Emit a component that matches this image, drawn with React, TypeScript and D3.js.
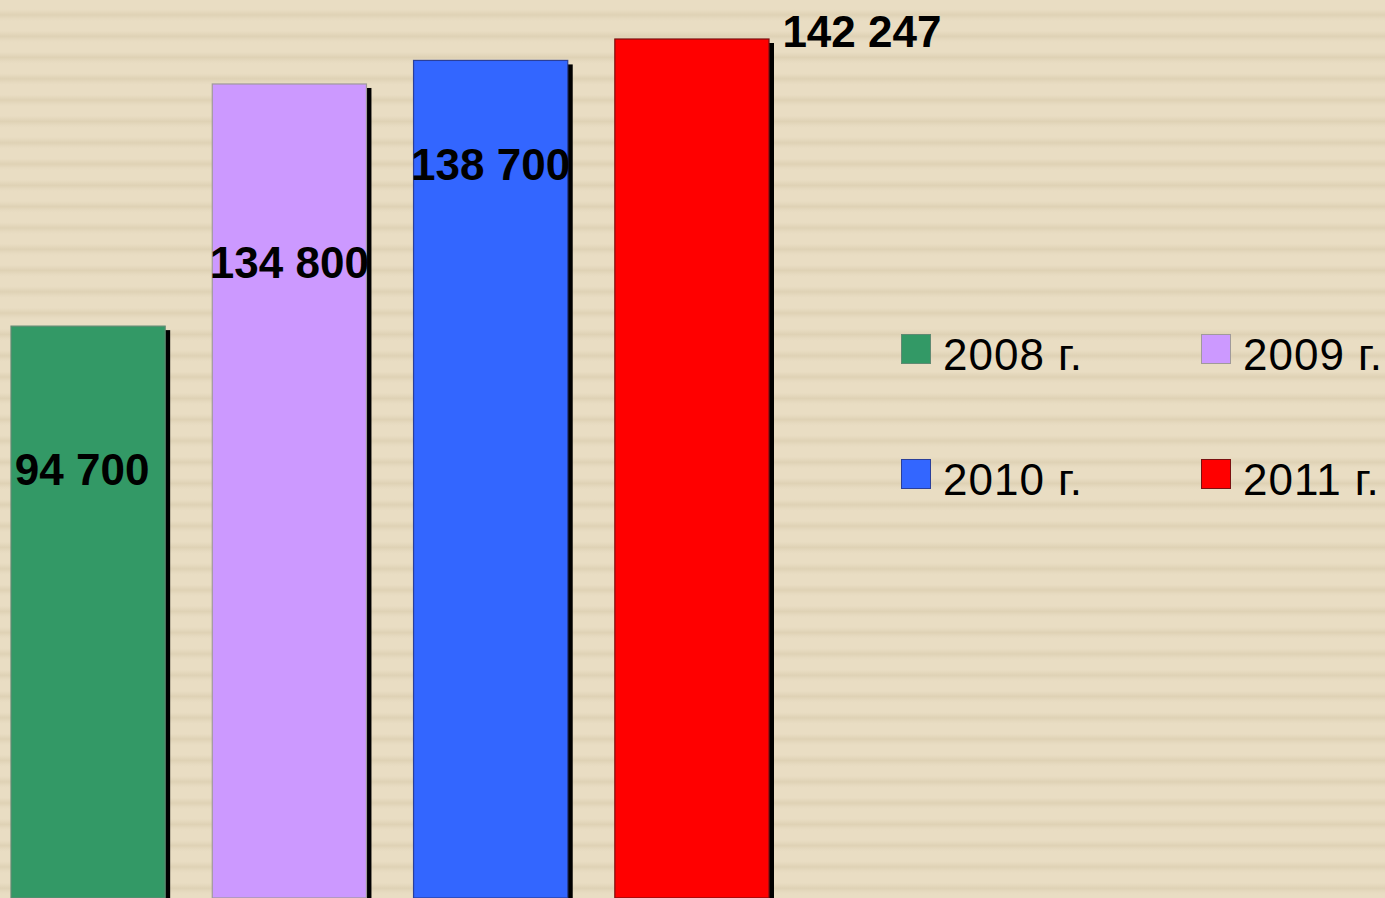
import React from 'react';
import * as d3 from 'd3';

const years = ['2008 г.', '2009 г.', '2010 г.', '2011 г.'];
const values = [94700, 134800, 138700, 142247];
const labels = ['94 700', '134 800', '138 700', '142 247'];
const fills = ['#339966', '#CC99FF', '#3366FF', '#FF0000'];
const strokes = ['#5f8a72', '#a09a9a', '#2a3f9a', '#7a1010'];

// label placement (px), tuned per bar
const labelDx = [-6, 0, 0, 170];
const labelDy = [159, 194, 120, 8];

const W = 1385;
const H = 898;

const App = () => {
  const x = d3.scaleBand().domain(years).range([11, 769]).paddingInner(0.234).paddingOuter(0);
  const y = d3.scaleLinear().domain([0, d3.max(values) as number]).range([898, 39]);

  return (
    <svg
      width={W}
      height={H}
      style={{ position: 'absolute', left: 0, top: 0, display: 'block' }}
    >
      <defs>
        <linearGradient id="stripe" x1="0" y1="0" x2="0" y2="1">
          <stop offset="0" stopColor="#E9DDC3" />
          <stop offset="0.45" stopColor="#E9DDC3" />
          <stop offset="0.7" stopColor="#DFD2B5" />
          <stop offset="0.9" stopColor="#E7DBC1" />
          <stop offset="1" stopColor="#E9DDC3" />
        </linearGradient>
        <pattern id="bg" patternUnits="userSpaceOnUse" width={W} height={21.3}>
          <rect width={W} height={21.3} fill="url(#stripe)" />
        </pattern>
      </defs>
      <rect width={W} height={H} fill="#E9DDC3" />
      <rect width={W} height={H} fill="url(#bg)" />

      <g>
        {values.map((v, i) => {
          const bx = x(years[i]) as number;
          const bw = x.bandwidth();
          return (
            <g key={years[i]}>
              <rect x={bx + 5} y={y(v) + 4} width={bw} height={H - y(v)} fill="#000" />
              <rect
                x={bx}
                y={y(v)}
                width={bw}
                height={H - y(v)}
                fill={fills[i]}
                stroke={strokes[i]}
                strokeWidth={1.2}
              />
            </g>
          );
        })}
      </g>

      <g fontFamily="'Liberation Sans', Arial, sans-serif" fontWeight="bold" fontSize={44}>
        {values.map((v, i) => (
          <text
            key={labels[i]}
            x={(x(years[i]) as number) + x.bandwidth() / 2 + labelDx[i]}
            y={y(v) + labelDy[i]}
            textAnchor="middle"
            fill="#000"
          >
            {labels[i]}
          </text>
        ))}
      </g>

      <g fontFamily="'Liberation Sans', Arial, sans-serif" fontSize={44}>
        {years.map((yr, i) => {
          const lx = 901 + (i % 2) * 300;
          const ly = 334 + Math.floor(i / 2) * 125;
          return (
            <g key={yr} transform={`translate(${lx},${ly})`}>
              <rect x={0.5} y={0.5} width={29} height={29} fill={fills[i]} stroke={strokes[i]} strokeWidth={1} />
              <text x={42} y={36} fill="#000" letterSpacing={1}>
                {yr}
              </text>
            </g>
          );
        })}
      </g>
    </svg>
  );
};

export default App;
